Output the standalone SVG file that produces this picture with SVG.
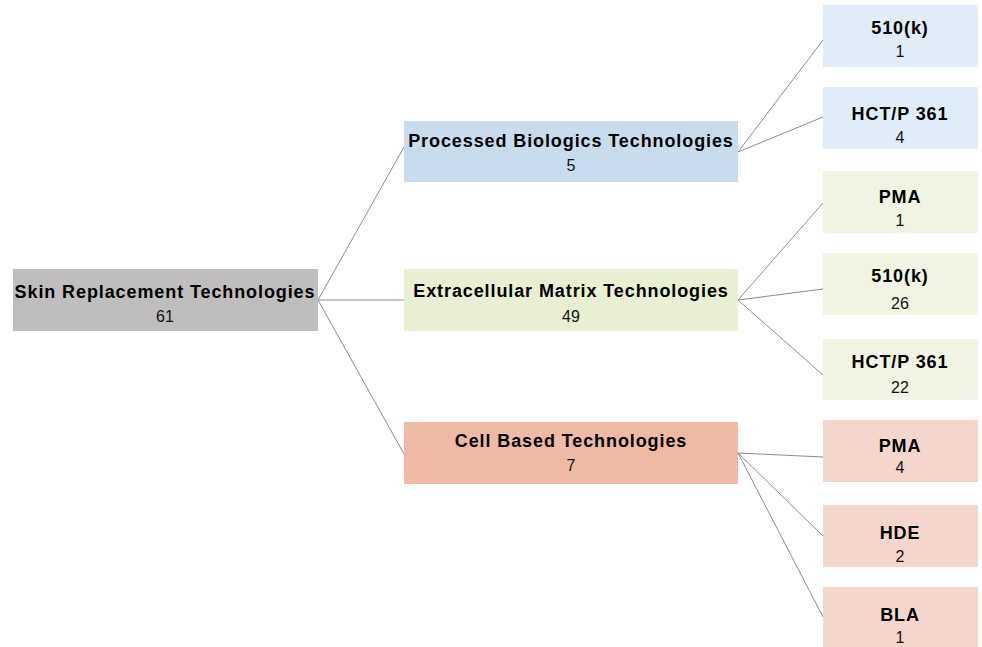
<svg xmlns="http://www.w3.org/2000/svg" width="982" height="647" viewBox="0 0 982 647">
<style>
.t{font-family:"Liberation Sans",Arial,sans-serif;font-weight:bold;font-size:18px;letter-spacing:0.9px;fill:#000;text-anchor:middle}
.n{font-family:"Liberation Sans",Arial,sans-serif;font-size:16px;fill:#111;text-anchor:middle}
.c line{stroke:#8c8c8c;stroke-width:1}
</style>
<rect width="982" height="647" fill="#ffffff"/>
<g class="c" id="connectors">
<line x1="318" y1="300" x2="404" y2="147"/>
<line x1="318" y1="300" x2="404" y2="300"/>
<line x1="318" y1="300" x2="404" y2="454"/>
<line x1="738" y1="152" x2="823" y2="40"/>
<line x1="738" y1="152" x2="823" y2="117"/>
<line x1="738" y1="300" x2="823" y2="203"/>
<line x1="738" y1="300" x2="823" y2="289"/>
<line x1="738" y1="300" x2="823" y2="375"/>
<line x1="738" y1="453" x2="823" y2="457"/>
<line x1="738" y1="453" x2="823" y2="536"/>
<line x1="738" y1="453" x2="823" y2="617"/>
</g>
<g id="root"><rect x="13" y="269" width="305" height="62" fill="#bfbdbe"/><text class="t" x="165" y="298">Skin Replacement Technologies</text><text class="n" x="165" y="322">61</text></g>
<g id="processed"><rect x="404" y="121" width="334" height="61" fill="#c9dcee"/><text class="t" x="571" y="147">Processed Biologics Technologies</text><text class="n" x="571" y="171">5</text></g>
<g id="ecm"><rect x="404" y="269" width="334" height="62" fill="#e8efd3"/><text class="t" x="571" y="297">Extracellular Matrix Technologies</text><text class="n" x="571" y="322">49</text></g>
<g id="cell"><rect x="404" y="422" width="334" height="62" fill="#eeb9a5"/><text class="t" x="571" y="447">Cell Based Technologies</text><text class="n" x="571" y="471">7</text></g>
<g id="pb510k"><rect x="823" y="5" width="155" height="62" fill="#e0ecf8"/><text class="t" x="900" y="34">510(k)</text><text class="n" x="900" y="57">1</text></g>
<g id="pbhct"><rect x="823" y="87" width="155" height="62" fill="#e0ecf8"/><text class="t" x="900" y="120">HCT/P 361</text><text class="n" x="900" y="143">4</text></g>
<g id="ecmpma"><rect x="823" y="171" width="155" height="62" fill="#f1f4e3"/><text class="t" x="900" y="203">PMA</text><text class="n" x="900" y="226">1</text></g>
<g id="ecm510k"><rect x="823" y="253" width="155" height="62" fill="#f1f4e3"/><text class="t" x="900" y="282">510(k)</text><text class="n" x="900" y="309">26</text></g>
<g id="ecmhct"><rect x="823" y="339" width="155" height="61" fill="#f1f4e3"/><text class="t" x="900" y="368">HCT/P 361</text><text class="n" x="900" y="393">22</text></g>
<g id="cellpma"><rect x="823" y="420" width="155" height="62" fill="#f5d6cc"/><text class="t" x="900" y="452">PMA</text><text class="n" x="900" y="473">4</text></g>
<g id="cellhde"><rect x="823" y="505" width="155" height="62" fill="#f5d6cc"/><text class="t" x="900" y="539">HDE</text><text class="n" x="900" y="562">2</text></g>
<g id="cellbla"><rect x="823" y="587" width="155" height="60" fill="#f5d6cc"/><text class="t" x="900" y="621">BLA</text><text class="n" x="900" y="643">1</text></g>
</svg>
